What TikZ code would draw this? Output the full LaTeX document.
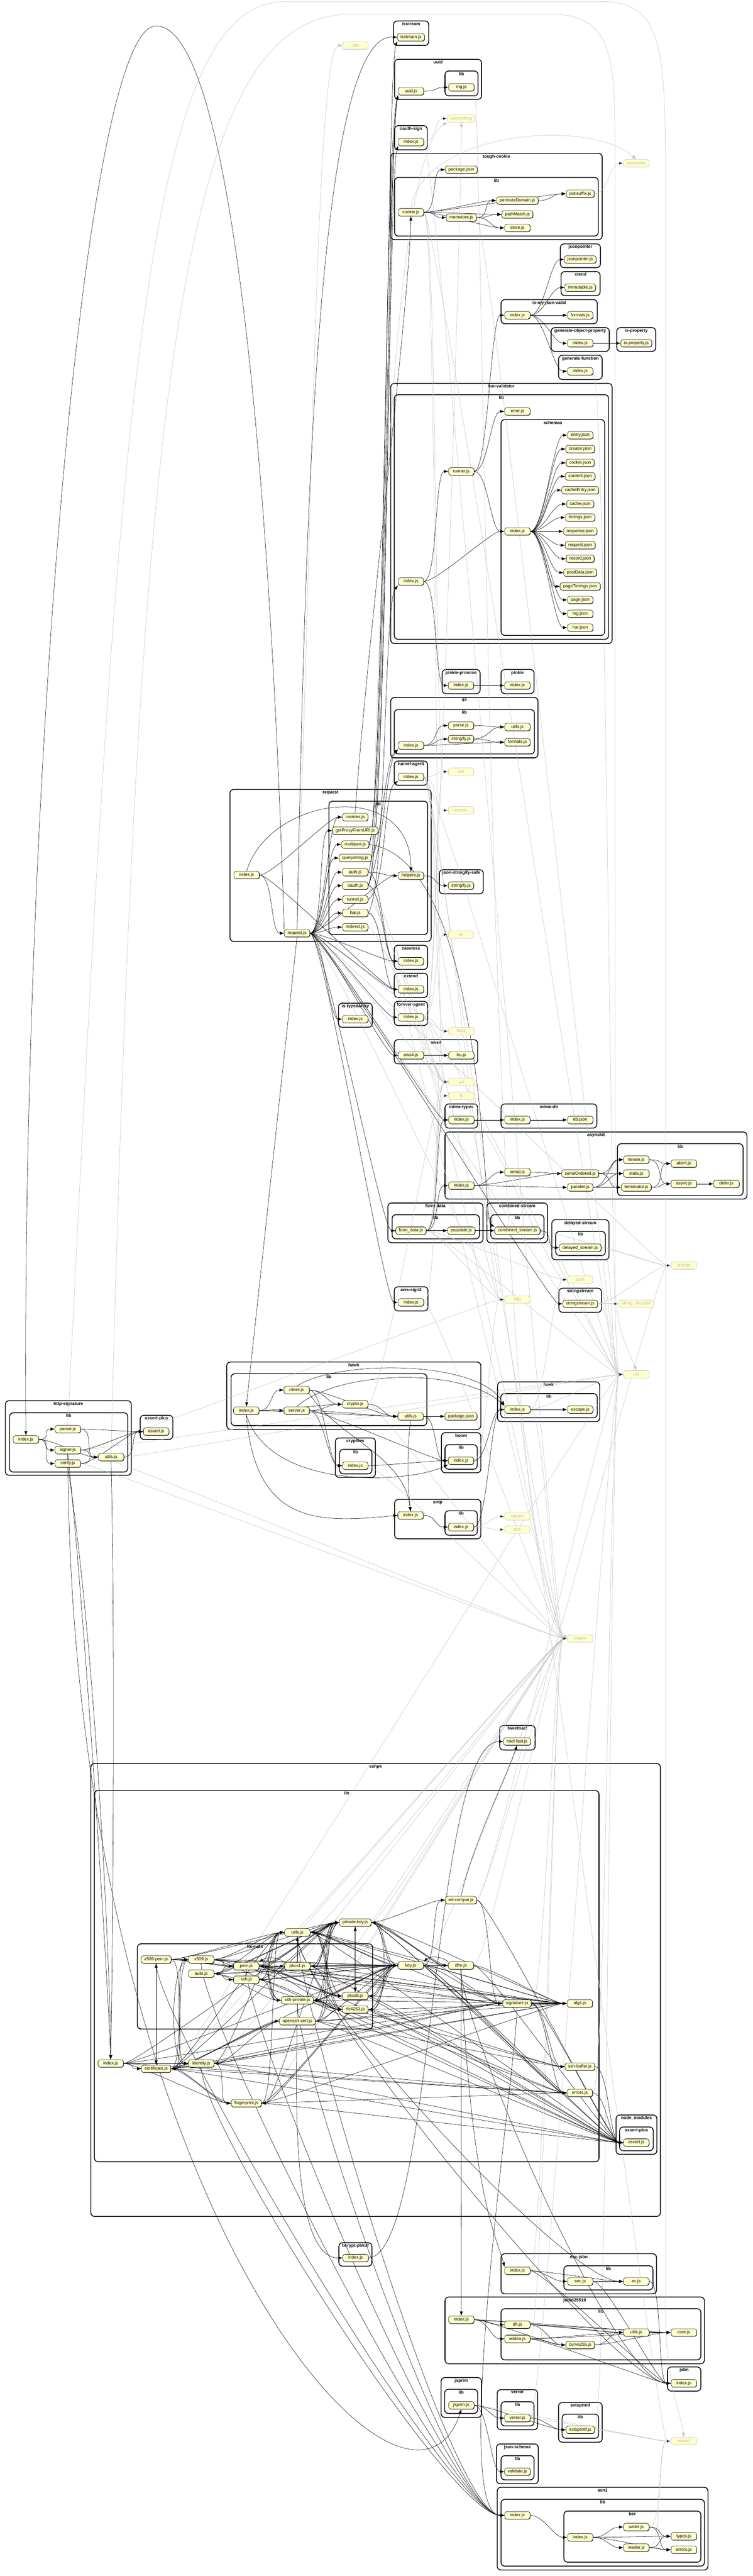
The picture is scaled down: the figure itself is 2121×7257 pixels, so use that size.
\documentclass[tikz,border=0pt]{standalone}
\usepackage{fontspec}
\setmainfont{Liberation Sans}
\usepackage{tikz}
\usetikzlibrary{arrows.meta,positioning,fit,backgrounds,shadows}
\definecolor{paleyellow}{RGB}{255,255,204}
\definecolor{coreline}{RGB}{192,192,192}
\definecolor{coretext}{RGB}{188,188,188}

\begin{document}
\begin{tikzpicture}[x=0.02cm, y=-0.02cm,
    modfile/.style={rectangle, draw, fill=paleyellow, rounded corners=3.5pt, line width=.5pt,
      minimum width=40.8pt, minimum height=12pt, inner xsep=5pt, inner ysep=1pt,
      font=\fontsize{7}{8}\selectfont,
      drop shadow={shadow xshift=.6pt, shadow yshift=-.6pt, opacity=.8, fill=black}},
    builtin/.style={rectangle, draw=coreline, fill=paleyellow, text=coretext, rounded corners=3.5pt,
      line width=.5pt, minimum width=40.8pt, minimum height=12pt, inner xsep=5pt, inner ysep=1pt,
      font=\fontsize{7}{8}\selectfont},
    pkg/.style={rectangle, draw, rounded corners=6pt, line width=1.3pt, inner sep=0pt},
    pkglab/.style={anchor=north, inner sep=1.5pt, yshift=-1pt, font=\bfseries\fontsize{7}{8}\selectfont},
    dep/.style={-{Latex[length=7pt,width=5pt]}, line width=.45pt},
    sys/.style={dep, draw=coreline},
    fwd/.style={to path={(\tikztostart.east) .. controls +(22pt,0) and +(-22pt,0) .. (\tikztotarget.west)}},
    bwd/.style={to path={(\tikztostart.west) .. controls +(-22pt,0) and +(22pt,0) .. (\tikztotarget.east)}},
    sink/.style={to path={(\tikztostart.south) .. controls +(0,-90pt) and +(-90pt,0) .. (\tikztotarget.west)}},
    vup/.style={to path={(\tikztostart.north) -- (\tikztotarget.south)}},
    vdown/.style={to path={(\tikztostart.south) -- (\tikztotarget.north)}},
    loopl/.style={to path={(\tikztostart.west) .. controls +(-30pt,0) and +(-30pt,0) .. (\tikztotarget.west)}},
    loopr/.style={to path={(\tikztostart.east) .. controls +(30pt,0) and +(30pt,0) .. (\tikztotarget.east)}},
    arcup/.style={to path={(\tikztostart.north west) .. controls +(-12pt,9pt) and +(12pt,9pt) .. (\tikztotarget.north east)}}]

    \useasboundingbox (0,0) rectangle (2121,7257);

    % Package boxes (drawn first, behind everything)
    \begin{pgfonlayer}{background}
    \fill[white] (0,0) rectangle (2121,7257);
    \node[pkg, fit={(1109,59) (1208,128)}, label={[pkglab]north:isstream}] (pIsstream) {};
    \node[pkg, fit={(1112,167) (1357,280)}, label={[pkglab]north:uuid}] (pUuid) {};
    \node[pkg, fit={(1254,200) (1347,270)}, label={[pkglab]north:lib}] (pUuidLib) {};
    \node[pkg, fit={(1112,354) (1204,422)}, label={[pkglab]north:oauth-sign}] (pOauthSign) {};
    \node[pkg, fit={(1101,432) (1697,675)}, label={[pkglab]north:tough-cookie}] (pTough) {};
    \node[pkg, fit={(1112,500) (1686,665)}, label={[pkglab]north:lib}] (pToughLib) {};
    \node[pkg, fit={(1579,687) (1692,754)}, label={[pkglab]north:jsonpointer}] (pJsonpointer) {};
    \node[pkg, fit={(1581,765) (1691,833)}, label={[pkglab]north:xtend}] (pXtend) {};
    \node[pkg, fit={(1412,844) (1683,912)}, label={[pkglab]north:is-my-json-valid}] (pImjv) {};
    \node[pkg, fit={(1553,923) (1717,990)}, label={[pkglab]north:generate-object-property}] (pGop) {};
    \node[pkg, fit={(1738,923) (1848,990)}, label={[pkglab]north:is-property}] (pIsProp) {};
    \node[pkg, fit={(1574,1001) (1697,1069)}, label={[pkglab]north:generate-function}] (pGenFn) {};
    \node[pkg, fit={(1101,1080) (1725,1813)}, label={[pkglab]north:har-validator}] (pHar) {};
    \node[pkg, fit={(1111,1112) (1715,1801)}, label={[pkglab]north:lib}] (pHarLib) {};
    \node[pkg, fit={(1412,1182) (1704,1790)}, label={[pkglab]north:schemas}] (pHarSchemas) {};
    \node[pkg, fit={(1246,1886) (1353,1954)}, label={[pkglab]north:pinkie-promise}] (pPinkieP) {};
    \node[pkg, fit={(1412,1886) (1505,1954)}, label={[pkglab]north:pinkie}] (pPinkie) {};
    \node[pkg, fit={(1101,1965) (1516,2135)}, label={[pkglab]north:qs}] (pQs) {};
    \node[pkg, fit={(1111,1999) (1506,2124)}, label={[pkglab]north:lib}] (pQsLib) {};
    \node[pkg, fit={(1111,2144) (1205,2212)}, label={[pkglab]north:tunnel-agent}] (pTunnel) {};
    \node[pkg, fit={(648,2224) (1215,2652)}, label={[pkglab]north:request}] (pRequest) {};
    \node[pkg, fit={(927,2257) (1205,2633)}, label={[pkglab]north:lib}] (pRequestLib) {};
    \node[pkg, fit={(1238,2450) (1362,2518)}, label={[pkglab]north:json-stringify-safe}] (pJss) {};
    \node[pkg, fit={(1111,2663) (1205,2731)}, label={[pkglab]north:caseless}] (pCaseless) {};
    \node[pkg, fit={(1111,2742) (1205,2810)}, label={[pkglab]north:extend}] (pExtend) {};
    \node[pkg, fit={(1111,2821) (1205,2889)}, label={[pkglab]north:forever-agent}] (pForever) {};
    \node[pkg, fit={(954,2826) (1049,2894)}, label={[pkglab]north:is-typedarray}] (pTypedArr) {};
    \node[pkg, fit={(1111,2929) (1346,2997)}, label={[pkglab]north:aws4}] (pAws4) {};
    \node[pkg, fit={(1254,3110) (1346,3178)}, label={[pkglab]north:mime-types}] (pMimeTypes) {};
    \node[pkg, fit={(1412,3110) (1682,3178)}, label={[pkglab]north:mime-db}] (pMimeDb) {};
    \node[pkg, fit={(1254,3189) (2105,3378)}, label={[pkglab]north:asynckit}] (pAsynckit) {};
    \node[pkg, fit={(1740,3222) (2094,3368)}, label={[pkglab]north:lib}] (pAsynckitLib) {};
    \node[pkg, fit={(1093,3389) (1361,3501)}, label={[pkglab]north:form-data}] (pFormData) {};
    \node[pkg, fit={(1105,3422) (1351,3490)}, label={[pkglab]north:lib}] (pFormDataLib) {};
    \node[pkg, fit={(1372,3389) (1543,3501)}, label={[pkglab]north:combined-stream}] (pCombined) {};
    \node[pkg, fit={(1383,3422) (1533,3490)}, label={[pkglab]north:lib}] (pCombinedLib) {};
    \node[pkg, fit={(1555,3436) (1716,3549)}, label={[pkglab]north:delayed-stream}] (pDelayed) {};
    \node[pkg, fit={(1566,3469) (1706,3537)}, label={[pkglab]north:lib}] (pDelayedLib) {};
    \node[pkg, fit={(1575,3629) (1695,3697)}, label={[pkglab]north:stringstream}] (pStringstream) {};
    \node[pkg, fit={(1111,3625) (1206,3693)}, label={[pkglab]north:aws-sign2}] (pAwsSign2) {};
    \node[pkg, fit={(639,3837) (1355,4027)}, label={[pkglab]north:hawk}] (pHawk) {};
    \node[pkg, fit={(651,3870) (1203,4016)}, label={[pkglab]north:lib}] (pHawkLib) {};
    \node[pkg, fit={(1402,3893) (1690,4005)}, label={[pkglab]north:hoek}] (pHoek) {};
    \node[pkg, fit={(1411,3926) (1683,3994)}, label={[pkglab]north:lib}] (pHoekLib) {};
    \node[pkg, fit={(945,4051) (1058,4162)}, label={[pkglab]north:cryptiles}] (pCryptiles) {};
    \node[pkg, fit={(957,4083) (1048,4152)}, label={[pkglab]north:lib}] (pCryptilesLib) {};
    \node[pkg, fit={(1244,4036) (1355,4149)}, label={[pkglab]north:boom}] (pBoom) {};
    \node[pkg, fit={(1254,4070) (1345,4139)}, label={[pkglab]north:lib}] (pBoomLib) {};
    \node[pkg, fit={(1112,4224) (1355,4335)}, label={[pkglab]north:sntp}] (pSntp) {};
    \node[pkg, fit={(1254,4256) (1345,4325)}, label={[pkglab]north:lib}] (pSntpLib) {};
    \node[pkg, fit={(15,3946) (370,4156)}, label={[pkglab]north:http-signature}] (pHttpSig) {};
    \node[pkg, fit={(27,3980) (360,4147)}, label={[pkglab]north:lib}] (pHttpSigLib) {};
    \node[pkg, fit={(395,3987) (487,4055)}, label={[pkglab]north:assert-plus}] (pAssertPlus) {};
    \node[pkg, fit={(1408,4861) (1508,4930)}, label={[pkglab]north:tweetnacl}] (pTweetnacl) {};
    \node[pkg, fit={(256,4968) (1861,6244)}, label={[pkglab]north:sshpk}] (pSshpk) {};
    \node[pkg, fit={(266,5044) (1688,6090)}, label={[pkglab]north:lib}] (pSshpkLib) {};
    \node[pkg, fit={(387,5476) (1050,5716)}, label={[pkglab]north:formats}] (pSshpkFormats) {};
    \node[pkg, fit={(1736,5958) (1851,6069)}, label={[pkglab]north:node\_modules}] (pSshpkNm) {};
    \node[pkg, fit={(1746,5992) (1841,6059)}, label={[pkglab]north:assert-plus}] (pSshpkAp) {};
    \node[pkg, fit={(955,6318) (1048,6384)}, label={[pkglab]north:bcrypt-pbkdf}] (pBcrypt) {};
    \node[pkg, fit={(1412,6349) (1850,6462)}, label={[pkglab]north:ecc-jsbn}] (pEcc) {};
    \node[pkg, fit={(1589,6383) (1840,6451)}, label={[pkglab]north:lib}] (pEccLib) {};
    \node[pkg, fit={(1254,6471) (1985,6659)}, label={[pkglab]north:jodid25519}] (pJodid) {};
    \node[pkg, fit={(1412,6504) (1975,6648)}, label={[pkglab]north:lib}] (pJodidLib) {};
    \node[pkg, fit={(1881,6668) (1975,6736)}, label={[pkglab]north:jsbn}] (pJsbn) {};
    \node[pkg, fit={(1243,6698) (1357,6810)}, label={[pkglab]north:jsprim}] (pJsprim) {};
    \node[pkg, fit={(1253,6731) (1346,6799)}, label={[pkglab]north:lib}] (pJsprimLib) {};
    \node[pkg, fit={(1401,6732) (1515,6845)}, label={[pkglab]north:verror}] (pVerror) {};
    \node[pkg, fit={(1412,6766) (1505,6834)}, label={[pkglab]north:lib}] (pVerrorLib) {};
    \node[pkg, fit={(1574,6768) (1697,6880)}, label={[pkglab]north:extsprintf}] (pExtsprintf) {};
    \node[pkg, fit={(1584,6801) (1687,6869)}, label={[pkglab]north:lib}] (pExtsprintfLib) {};
    \node[pkg, fit={(1399,6885) (1517,6997)}, label={[pkglab]north:json-schema}] (pJsonSchema) {};
    \node[pkg, fit={(1412,6918) (1505,6986)}, label={[pkglab]north:lib}] (pJsonSchemaLib) {};
    \node[pkg, fit={(1401,7007) (1995,7240)}, label={[pkglab]north:asn1}] (pAsn1) {};
    \node[pkg, fit={(1412,7041) (1985,7229)}, label={[pkglab]north:lib}] (pAsn1Lib) {};
    \node[pkg, fit={(1589,7074) (1975,7218)}, label={[pkglab]north:ber}] (pAsn1Ber) {};
    \end{pgfonlayer}

    % Node core modules (grey)
    \node[builtin] (czlib) at (1002,128) {zlib};
    \node[builtin] (cqs) at (1300,334) {querystring};
    \node[builtin] (cpuny) at (1793,460) {punycode};
    \node[builtin] (cnet) at (1299,2174) {net};
    \node[builtin] (cevents) at (1299,2283) {events};
    \node[builtin] (ctls) at (1299,2633) {tls};
    \node[builtin] (chttps) at (1300,2905) {https};
    \node[builtin] (curl) at (1300,3048) {url};
    \node[builtin] (cfs) at (1300,3087) {fs};
    \node[builtin] (cstream) at (1927,3565) {stream};
    \node[builtin] (cpath) at (1635,3605) {path};
    \node[builtin] (chttp) at (1458,3661) {http};
    \node[builtin] (csd) at (1793,3673) {string\_decoder};
    \node[builtin] (cutil) at (1793,3872) {util};
    \node[builtin] (cdgram) at (1458,4272) {dgram};
    \node[builtin] (cdns) at (1458,4309) {dns};
    \node[builtin] (ccrypto) at (1635,4616) {crypto};
    \node[builtin] (cassert) at (1927,6877) {assert};

    % isstream, uuid, oauth-sign, tough-cookie
    \node[modfile] (iss) at (1158,105) {isstream.js};
    \node[modfile] (uuid) at (1158,257) {uuid.js};
    \node[modfile] (rng) at (1300,246) {rng.js};
    \node[modfile] (oas) at (1158,400) {index.js};
    \node[modfile] (tcpkg) at (1300,478) {package.json};
    \node[modfile] (tccookie) at (1158,598) {cookie.js};
    \node[modfile] (tcmem) at (1300,613) {memstore.js};
    \node[modfile] (tcperm) at (1458,565) {permuteDomain.js};
    \node[modfile] (tcpath) at (1458,604) {pathMatch.js};
    \node[modfile] (tcstore) at (1458,642) {store.js};
    \node[modfile] (tcpub) at (1635,546) {pubsuffix.js};

    % is-my-json-valid and friends
    \node[modfile] (jp) at (1635,731) {jsonpointer.js};
    \node[modfile] (xt) at (1635,810) {immutable.js};
    \node[modfile] (imjv) at (1458,888) {index.js};
    \node[modfile] (imjvfmt) at (1635,888) {formats.js};
    \node[modfile] (gop) at (1635,967) {index.js};
    \node[modfile] (isprop) at (1793,967) {is-property.js};
    \node[modfile] (genfn) at (1635,1046) {index.js};

    % har-validator
    \node[modfile] (hverr) at (1458,1159) {error.js};
    \node[modfile] (hvrun) at (1300,1328) {runner.js};
    \node[modfile] (hvidx) at (1158,1638) {index.js};
    \node[modfile] (hvsch) at (1458,1497) {index.js};
    \node[modfile] (sEntry) at (1635,1226) {entry.json};
    \node[modfile] (sCreator) at (1635,1265) {creator.json};
    \node[modfile] (sCookie) at (1635,1304) {cookie.json};
    \node[modfile] (sContent) at (1635,1342) {content.json};
    \node[modfile] (sCacheEntry) at (1635,1381) {cacheEntry.json};
    \node[modfile] (sCache) at (1635,1420) {cache.json};
    \node[modfile] (sTimings) at (1635,1458) {timings.json};
    \node[modfile] (sResponse) at (1635,1497) {response.json};
    \node[modfile] (sRequest) at (1635,1536) {request.json};
    \node[modfile] (sRecord) at (1635,1574) {record.json};
    \node[modfile] (sPostData) at (1635,1613) {postData.json};
    \node[modfile] (sPageTimings) at (1635,1652) {pageTimings.json};
    \node[modfile] (sPage) at (1635,1690) {page.json};
    \node[modfile] (sLog) at (1635,1729) {log.json};
    \node[modfile] (sHar) at (1635,1768) {har.json};

    % pinkie, qs, tunnel-agent
    \node[modfile] (pp) at (1299,1931) {index.js};
    \node[modfile] (pk) at (1458,1931) {index.js};
    \node[modfile] (qsidx) at (1158,2100) {index.js};
    \node[modfile] (qsparse) at (1299,2044) {parse.js};
    \node[modfile] (qsstr) at (1299,2082) {stringify.js};
    \node[modfile] (qsutil) at (1458,2048) {utils.js};
    \node[modfile] (qsfmt) at (1458,2091) {formats.js};
    \node[modfile] (ta) at (1158,2189) {index.js};

    % request
    \node[modfile] (rqidx) at (695,2465) {index.js};
    \node[modfile] (rq) at (837,2629) {request.js};
    \node[modfile] (rqcook) at (1001,2302) {cookies.js};
    \node[modfile] (rqproxy) at (1001,2340) {getProxyFromURI.js};
    \node[modfile] (rqmulti) at (1001,2379) {multipart.js};
    \node[modfile] (rqqs) at (1001,2417) {querystring.js};
    \node[modfile] (rqauth) at (1001,2457) {auth.js};
    \node[modfile] (rqoauth) at (1001,2495) {oauth.js};
    \node[modfile] (rqtun) at (1001,2534) {tunnel.js};
    \node[modfile] (rqhar) at (1001,2572) {har.js};
    \node[modfile] (rqredir) at (1001,2612) {redirect.js};
    \node[modfile] (rqhelp) at (1158,2467) {helpers.js};
    \node[modfile] (jss) at (1299,2495) {stringify.js};
    \node[modfile] (cl) at (1158,2708) {index.js};
    \node[modfile] (ext) at (1158,2787) {index.js};
    \node[modfile] (fa) at (1158,2866) {index.js};
    \node[modfile] (ita) at (1001,2871) {index.js};
    \node[modfile] (aws4) at (1158,2973) {aws4.js};
    \node[modfile] (lru) at (1300,2973) {lru.js};
    \node[modfile] (mt) at (1300,3155) {index.js};
    \node[modfile] (mdb) at (1458,3155) {index.js};
    \node[modfile] (mdbjson) at (1635,3155) {db.json};

    % asynckit, form-data, streams
    \node[modfile] (ak) at (1300,3340) {index.js};
    \node[modfile] (akser) at (1458,3302) {serial.js};
    \node[modfile] (akso) at (1635,3306) {serialOrdered.js};
    \node[modfile] (akpar) at (1635,3345) {parallel.js};
    \node[modfile] (akit) at (1793,3267) {iterate.js};
    \node[modfile] (akst) at (1793,3306) {state.js};
    \node[modfile] (akterm) at (1793,3345) {terminator.js};
    \node[modfile] (akab) at (1927,3278) {abort.js};
    \node[modfile] (akas) at (1927,3335) {async.js};
    \node[modfile] (akdef) at (2047,3335) {defer.js};
    \node[modfile] (fd) at (1158,3467) {form\_data.js};
    \node[modfile] (fdpop) at (1300,3467) {populate.js};
    \node[modfile] (cs) at (1458,3467) {combined\_stream.js};
    \node[modfile] (ds) at (1635,3515) {delayed\_stream.js};
    \node[modfile] (ss) at (1635,3673) {stringstream.js};
    \node[modfile] (as2) at (1158,3669) {index.js};

    % hawk and its helpers
    \node[modfile] (hkidx) at (694,3974) {index.js};
    \node[modfile] (hkcli) at (836,3916) {client.js};
    \node[modfile] (hksrv) at (836,3974) {server.js};
    \node[modfile] (hkcry) at (1001,3956) {crypto.js};
    \node[modfile] (hkutil) at (1157,3990) {utils.js};
    \node[modfile] (hkpkg) at (1299,3990) {package.json};
    \node[modfile] (hoek) at (1458,3971) {index.js};
    \node[modfile] (hoekesc) at (1635,3971) {escape.js};
    \node[modfile] (cryp) at (1001,4129) {index.js};
    \node[modfile] (boom) at (1299,4115) {index.js};
    \node[modfile] (sntp) at (1157,4269) {index.js};
    \node[modfile] (sntplib) at (1299,4302) {index.js};

    % http-signature
    \node[modfile] (hsidx) at (73,4055) {index.js};
    \node[modfile] (hsparse) at (191,4026) {parser.js};
    \node[modfile] (hssign) at (191,4085) {signer.js};
    \node[modfile] (hsver) at (191,4123) {verify.js};
    \node[modfile] (hsutil) at (313,4105) {utils.js};
    \node[modfile] (ap) at (440,4033) {assert.js};
    \node[modfile] (nacl) at (1457,4906) {nacl-fast.js};

    % sshpk
    \node[modfile] (shidx) at (312,5813) {index.js};
    \node[modfile] (shcert) at (440,5828) {certificate.js};
    \node[modfile] (shid) at (567,5813) {identity.js};
    \node[modfile] (shfp) at (694,5925) {fingerprint.js};
    \node[modfile] (shx509pem) at (440,5520) {x509-pem.js};
    \node[modfile] (shx509) at (567,5520) {x509.js};
    \node[modfile] (shauto) at (567,5560) {auto.js};
    \node[modfile] (shpem) at (694,5539) {pem.js};
    \node[modfile] (shssh) at (694,5577) {ssh.js};
    \node[modfile] (shpkcs1) at (838,5539) {pkcs1.js};
    \node[modfile] (shsshpriv) at (838,5635) {ssh-private.js};
    \node[modfile] (shoc) at (838,5694) {openssh-cert.js};
    \node[modfile] (shpkcs8) at (1001,5623) {pkcs8.js};
    \node[modfile] (shrfc) at (1001,5661) {rfc4253.js};
    \node[modfile] (shutil) at (838,5444) {utils.js};
    \node[modfile] (shpriv) at (1001,5416) {private-key.js};
    \node[modfile] (shkey) at (1157,5537) {key.js};
    \node[modfile] (shdhe) at (1299,5537) {dhe.js};
    \node[modfile] (shed) at (1299,5353) {ed-compat.js};
    \node[modfile] (shsig) at (1457,5644) {signature.js};
    \node[modfile] (shalgs) at (1634,5644) {algs.js};
    \node[modfile] (shbuf) at (1634,5822) {ssh-buffer.js};
    \node[modfile] (sherr) at (1634,5896) {errors.js};
    \node[modfile] (shap) at (1793,6036) {assert.js};

    % crypto helpers at the bottom
    \node[modfile] (bcrypt) at (1002,6361) {index.js};
    \node[modfile] (eccidx) at (1458,6397) {index.js};
    \node[modfile] (eccsec) at (1635,6427) {sec.js};
    \node[modfile] (eccec) at (1793,6427) {ec.js};
    \node[modfile] (jdidx) at (1300,6535) {index.js};
    \node[modfile] (jddh) at (1458,6549) {dh.js};
    \node[modfile] (jded) at (1458,6589) {eddsa.js};
    \node[modfile] (jdcurve) at (1635,6606) {curve255.js};
    \node[modfile] (jdutil) at (1793,6571) {utils.js};
    \node[modfile] (jdcore) at (1927,6571) {core.js};
    \node[modfile] (jsbn) at (1927,6714) {index.js};
    \node[modfile] (jsprim) at (1300,6776) {jsprim.js};
    \node[modfile] (verror) at (1458,6812) {verror.js};
    \node[modfile] (extspf) at (1635,6845) {extsprintf.js};
    \node[modfile] (jsch) at (1458,6963) {validate.js};
    \node[modfile] (asidx) at (1458,7086) {index.js};
    \node[modfile] (aberidx) at (1635,7148) {index.js};
    \node[modfile] (abwr) at (1793,7119) {writer.js};
    \node[modfile] (abrd) at (1793,7177) {reader.js};
    \node[modfile] (abty) at (1927,7145) {types.js};
    \node[modfile] (aberr) at (1927,7183) {errors.js};

    \begin{pgfonlayer}{background}
    % Edges to core modules (grey)
    \draw[sys] (tcpub) edge[fwd] (cpuny);
    \draw[sys] (tccookie.north) .. controls (1190,370) and (1660,330) .. (cpuny.north);
    \draw[sys] (tccookie) edge[fwd] (cnet) edge[fwd] (curl) edge[fwd] (cutil);
    \draw[sys] (tcmem) edge[fwd] (cutil);
    \draw[sys] (oas) edge[fwd] (cqs) edge[fwd] (ccrypto);
    \draw[sys] (rng.south east) .. controls (1365,300) and (1365,4400) .. (ccrypto.west);
    \draw[sys] (rq.north) .. controls (880,1500) and (890,128) .. (czlib.west);
    \draw[sys] (rqqs.east) .. controls (1060,2300) and (1080,450) .. (cqs.south west);
    \draw[sys] (aws4.north east) .. controls (1230,2900) and (1300,600) .. (cqs.south);
    \draw[sys] (genfn) edge[fwd] (cutil);
    \draw[sys] (ta) edge[fwd] (cnet) edge[fwd] (ctls) edge[fwd] (cevents) edge[fwd] (chttp) edge[fwd] (chttps) edge[fwd] (cutil) edge[fwd] (cassert);
    \draw[sys] (fa) edge[fwd] (chttp) edge[fwd] (chttps) edge[fwd] (cnet) edge[fwd] (ctls) edge[fwd] (cutil);
    \draw[sys] (rq) edge[fwd] (chttp) edge[fwd] (chttps) edge[fwd] (curl) edge[fwd] (cutil) edge[fwd] (cstream);
    \draw[sys] (rqredir) edge[fwd] (curl);
    \draw[sys] (rqhar) edge[fwd] (cfs);
    \draw[sys] (rqhelp) edge[fwd] (ccrypto);
    \draw[sys] (rqoauth) edge[fwd] (curl) edge[fwd] (ccrypto);
    \draw[sys] (rqtun) edge[fwd] (curl);
    \draw[sys] (aws4) edge[fwd] (curl) edge[fwd] (ccrypto);
    \draw[sys] (mt) edge[fwd] (cpath);
    \draw[sys] (fd) edge[fwd] (cutil) edge[fwd] (cpath) edge[fwd] (chttp) edge[fwd] (chttps) edge[fwd] (curl) edge[fwd] (cfs);
    \draw[sys] (cs) edge[fwd] (cutil) edge[fwd] (cstream);
    \draw[sys] (ds) edge[fwd] (cstream) edge[fwd] (cutil);
    \draw[sys] (ss) edge[fwd] (csd) edge[fwd] (cstream) edge[fwd] (cutil);
    \draw[sys] (as2) edge[fwd] (ccrypto) edge[fwd] (curl);
    \draw[sys] (hkcry) edge[fwd] (ccrypto) edge[fwd] (curl);
    \draw[sys] (hoek) edge[fwd] (cutil) edge[fwd] (ccrypto) edge[fwd] (cpath);
    \draw[sys] (boom) edge[fwd] (chttp);
    \draw[sys] (cryp) edge[fwd] (ccrypto);
    \draw[sys] (sntplib) edge[fwd] (cdgram) edge[fwd] (cdns);
    \draw[sys] (hssign) edge[fwd] (ccrypto) edge[fwd] (chttp) edge[fwd] (cutil);
    \draw[sys] (hsver) edge[fwd] (ccrypto);
    \draw[sys] (hsutil) edge[fwd] (cutil);
    \draw[sys] (hsparse.north) .. controls (330,1200) and (400,5) .. (800,5) -- (1700,5) .. controls (1870,5) and (1875,150) .. (1875,500) -- (1875,6500) .. controls (1875,6720) and (1920,6800) .. (cassert.north);
    \draw[sys] (hsutil.north) .. controls (390,1000) and (520,40) .. (990,40) -- (1550,40) .. controls (1720,40) and (1733,150) .. (1733,400) -- (1733,3600) .. controls (1733,3760) and (1780,3820) .. (cutil.north);
    \draw[sys] (shkey) edge[fwd] (ccrypto);
    \draw[sys] (shpriv) edge[fwd] (ccrypto);
    \draw[sys] (shcert) edge[fwd] (ccrypto) edge[fwd] (cutil);
    \draw[sys] (shid) edge[fwd] (ccrypto);
    \draw[sys] (shfp) edge[fwd] (ccrypto);
    \draw[sys] (shsig) edge[fwd] (ccrypto);
    \draw[sys] (shutil) edge[fwd] (ccrypto);
    \draw[sys] (shdhe) edge[fwd] (ccrypto);
    \draw[sys] (shpem) edge[fwd] (ccrypto);
    \draw[sys] (shsshpriv) edge[fwd] (ccrypto);
    \draw[sys] (shoc) edge[fwd] (ccrypto);
    \draw[sys] (sherr) edge[fwd] (cutil);
    \draw[sys] (shed) edge[fwd] (cstream) edge[fwd] (cutil);
    \draw[sys] (eccidx) edge[fwd] (ccrypto);
    \draw[sys] (jded) edge[fwd] (ccrypto);
    \draw[sys] (jsprim) edge[fwd] (cassert);
    \draw[sys] (verror) edge[fwd] (cassert) edge[fwd] (cutil);
    \draw[sys] (extspf) edge[fwd] (cassert) edge[fwd] (cutil);
    \draw[sys] (abwr) edge[fwd] (cassert);
    \draw[sys] (abrd) edge[fwd] (cassert);

    % tough-cookie, uuid, is-my-json-valid
    \draw[dep] (tccookie) edge[fwd] (tcpkg) edge[fwd] (tcpub) edge[fwd] (tcperm) edge[fwd] (tcpath) edge[fwd] (tcmem) edge[fwd] (tcstore);
    \draw[dep] (tcmem) edge[fwd] (tcperm) edge[fwd] (tcpath) edge[fwd] (tcstore);
    \draw[dep] (tcperm) edge[fwd] (tcpub);
    \draw[dep] (uuid) edge[fwd] (rng);
    \draw[dep] (imjv) edge[fwd] (jp) edge[fwd] (xt) edge[fwd] (imjvfmt) edge[fwd] (gop) edge[fwd] (genfn);
    \draw[dep] (gop) edge[fwd] (isprop);

    % har-validator
    \draw[dep] (hvidx) edge[fwd] (hvrun) edge[fwd] (hvsch) edge[fwd] (pp);
    \draw[dep] (hvrun) edge[fwd] (hverr) edge[fwd] (hvsch) edge[fwd] (imjv);
    \draw[dep] (hvsch) edge[fwd] (sEntry) edge[fwd] (sCreator) edge[fwd] (sCookie) edge[fwd] (sContent) edge[fwd] (sCacheEntry);
    \draw[dep] (hvsch) edge[fwd] (sCache) edge[fwd] (sTimings) edge[fwd] (sResponse) edge[fwd] (sRequest) edge[fwd] (sRecord);
    \draw[dep] (hvsch) edge[fwd] (sPostData) edge[fwd] (sPageTimings) edge[fwd] (sPage) edge[fwd] (sLog) edge[fwd] (sHar);
    \draw[dep] (pp) edge[fwd] (pk);

    % qs
    \draw[dep] (qsidx) edge[fwd] (qsparse) edge[fwd] (qsstr) edge[fwd] (qsfmt);
    \draw[dep] (qsparse) edge[fwd] (qsutil);
    \draw[dep] (qsstr) edge[fwd] (qsutil) edge[fwd] (qsfmt);

    % request
    \draw[dep] (rqidx) edge[fwd] (rq) edge[fwd] (rqcook) edge[fwd] (ext);
    \draw[dep] (rqidx.north) .. controls (760,2240) and (1158,2190) .. (rqhelp.north);
    \draw[dep] (rq) edge[fwd] (rqcook) edge[fwd] (rqproxy) edge[fwd] (rqmulti) edge[fwd] (rqqs) edge[fwd] (rqauth) edge[fwd] (rqoauth);
    \draw[dep] (rq) edge[fwd] (rqtun) edge[fwd] (rqhar) edge[fwd] (rqredir) edge[fwd] (rqhelp) edge[fwd] (cl) edge[fwd] (ext);
    \draw[dep] (rq) edge[fwd] (fa) edge[fwd] (ita) edge[fwd] (aws4) edge[fwd] (mt) edge[fwd] (fd) edge[fwd] (as2) edge[fwd] (ss);
    \draw[dep] (rq.north) .. controls (860,1500) and (890,90) .. (iss.west);
    \draw[dep] (rq.north west) .. controls (760,1300) and (650,73) .. (440,73) .. controls (230,73) and (60,2300) .. (hsidx.north);
    \draw[dep] (rq.south) -- (hkidx.north);
    \draw[dep] (rqcook.north) .. controls (1035,1800) and (1150,900) .. (tccookie.south);
    \draw[dep] (rqmulti.east) .. controls (1080,2300) and (1085,400) .. (uuid.south west);
    \draw[dep] (rqmulti.east) .. controls (1085,2300) and (1090,200) .. (iss.south west);
    \draw[dep] (rqmulti.east) .. controls (1370,2420) and (1360,3440) .. (cs.north west);
    \draw[dep] (rqauth.east) .. controls (1085,2400) and (1090,420) .. (uuid.south west);
    \draw[dep] (rqauth) edge[fwd] (cl) edge[fwd] (rqhelp);
    \draw[dep] (rqoauth.east) .. controls (1090,2400) and (1095,500) .. (oas.south west);
    \draw[dep] (rqoauth.east) .. controls (1090,2420) and (1092,440) .. (uuid.south west);
    \draw[dep] (rqoauth.east) .. controls (1080,2400) and (1090,2150) .. (qsidx.south west);
    \draw[dep] (rqoauth) edge[fwd] (cl);
    \draw[dep] (rqqs.east) .. controls (1075,2380) and (1085,2140) .. (qsidx.south west);
    \draw[dep] (rqtun.east) .. controls (1090,2500) and (1080,2230) .. (ta.south west);
    \draw[dep] (rqhar.east) .. controls (1090,2500) and (1080,1700) .. (hvidx.south west);
    \draw[dep] (rqhar) edge[fwd] (ext);
    \draw[dep] (rqhelp) edge[fwd] (jss);

    % aws4, mime, asynckit, form-data, streams
    \draw[dep] (aws4) edge[fwd] (lru);
    \draw[dep] (mt) edge[fwd] (mdb);
    \draw[dep] (mdb) edge[fwd] (mdbjson);
    \draw[dep] (ak) edge[fwd] (akser) edge[fwd] (akso) edge[fwd] (akpar);
    \draw[dep] (akser) edge[fwd] (akso);
    \draw[dep] (akso) edge[fwd] (akit) edge[fwd] (akst) edge[fwd] (akterm);
    \draw[dep] (akpar) edge[fwd] (akit) edge[fwd] (akst) edge[fwd] (akterm);
    \draw[dep] (akit) edge[fwd] (akab) edge[fwd] (akas);
    \draw[dep] (akterm) edge[fwd] (akab) edge[fwd] (akas);
    \draw[dep] (akas) edge[fwd] (akdef);
    \draw[dep] (fd) edge[fwd] (fdpop) edge[fwd] (ak) edge[fwd] (cs) edge[fwd] (mt);
    \draw[dep] (cs) edge[fwd] (ds);

    % hawk
    \draw[dep] (hkidx) edge[fwd] (hkcli) edge[fwd] (hksrv) edge[fwd] (hkcry) edge[fwd] (hkutil);
    \draw[dep] (hkidx.south) .. controls (760,4200) and (1150,4180) .. (boom.south west);
    \draw[dep] (hkidx.south) .. controls (720,4300) and (900,4290) .. (sntp.west);
    \draw[dep] (hkcli) edge[fwd] (hkcry) edge[fwd] (hkutil) edge[fwd] (cryp);
    \draw[dep] (hkcli.north) .. controls (950,3830) and (1350,3830) .. (hoek.north west);
    \draw[dep] (hkcli.south east) .. controls (950,4050) and (1140,4100) .. (sntp.north);
    \draw[dep] (hksrv) edge[fwd] (hkcry) edge[fwd] (hkutil) edge[fwd] (boom) edge[fwd] (cryp);
    \draw[dep] (hksrv.north) .. controls (950,3860) and (1300,3850) .. (hoek.north west);
    \draw[dep] (hkcry) edge[fwd] (hkutil);
    \draw[dep] (hkutil) edge[fwd] (hkpkg) edge[fwd] (boom);
    \draw[dep] (hkutil.south) .. controls (1145,4100) and (1150,4200) .. (sntp.north);
    \draw[dep] (cryp) edge[fwd] (boom);
    \draw[dep] (boom) edge[fwd] (hoek);
    \draw[dep] (sntp) edge[fwd] (sntplib);
    \draw[dep] (sntplib) edge[fwd] (hoek);
    \draw[dep] (hoek) edge[fwd] (hoekesc);

    % http-signature
    \draw[dep] (hsidx) edge[fwd] (hsparse) edge[fwd] (hssign) edge[fwd] (hsver) edge[fwd] (hsutil);
    \draw[dep] (hsparse) edge[fwd] (ap) edge[fwd] (hsutil);
    \draw[dep] (hssign) edge[fwd] (ap) edge[fwd] (hsutil);
    \draw[dep] (hsver) edge[fwd] (ap) edge[fwd] (hsutil);
    \draw[dep] (hsutil) edge[fwd] (ap);
    \draw[dep] (hssign.south) .. controls (235,4500) and (300,5500) .. (shidx.north);
    \draw[dep] (hsver.south) .. controls (265,4600) and (310,5500) .. (shidx.north);
    \draw[dep] (hsutil.south) .. controls (325,4600) and (318,5500) .. (shidx.north);
    \draw[dep] (hssign.south) .. controls (200,6200) and (1150,7250) .. (jsprim.south);

    % tweetnacl
    \draw[dep] (shed.north) .. controls (1330,5200) and (1430,5000) .. (nacl.south);
    \draw[dep] (bcrypt.east) .. controls (1225,6350) and (1215,4906) .. (nacl.west);

    % sshpk
    \draw[dep] (shidx) edge[fwd] (shcert) edge[fwd] (shid) edge[fwd] (shfp) edge[fwd] (shkey) edge[fwd] (shpriv) edge[fwd] (shsig) edge[fwd] (sherr);
    \draw[dep] (shkey) edge[fwd] (shalgs) edge[fwd] (shsig) edge[fwd] (shdhe) edge[fwd] (sherr) edge[fwd] (shap) edge[fwd] (shed);
    \draw[dep] (shkey) edge[bwd] (shfp) edge[bwd] (shutil) edge[bwd] (shpriv) edge[bwd] (shauto) edge[bwd] (shpem);
    \draw[dep] (shkey) edge[bwd] (shpkcs1) edge[bwd] (shpkcs8) edge[bwd] (shrfc) edge[bwd] (shssh) edge[bwd] (shsshpriv);
    \draw[dep] (shpriv) edge[fwd] (shalgs) edge[fwd] (shsig) edge[fwd] (sherr) edge[fwd] (shkey) edge[fwd] (shdhe) edge[fwd] (shed) edge[fwd] (shap);
    \draw[dep] (shpriv) edge[bwd] (shfp) edge[bwd] (shutil) edge[bwd] (shauto) edge[bwd] (shpem) edge[bwd] (shpkcs1) edge[bwd] (shsshpriv);
    \draw[dep] (shpriv) edge[vdown] (shpkcs8) edge[loopr] (shrfc);
    \draw[dep] (shcert) edge[fwd] (shkey) edge[fwd] (shpriv) edge[fwd] (shid) edge[fwd] (shfp) edge[fwd] (shsig) edge[fwd] (shalgs);
    \draw[dep] (shcert) edge[fwd] (sherr) edge[fwd] (shutil) edge[fwd] (shoc) edge[fwd] (shx509) edge[fwd] (shap) edge[vup] (shx509pem);
    \draw[dep] (shid) edge[fwd] (shalgs) edge[fwd] (shfp) edge[fwd] (shsig) edge[fwd] (sherr) edge[fwd] (shutil) edge[fwd] (shap) edge[sink] (asidx);
    \draw[dep] (shfp) edge[fwd] (shalgs) edge[fwd] (sherr) edge[fwd] (shkey) edge[fwd] (shutil) edge[fwd] (shap) edge[bwd] (shcert);
    \draw[dep] (shsig) edge[fwd] (shalgs) edge[fwd] (sherr) edge[fwd] (shbuf) edge[fwd] (shap) edge[bwd] (shutil) edge[sink] (asidx);
    \draw[dep] (shutil) edge[fwd] (shpriv) edge[fwd] (shkey) edge[fwd] (shalgs) edge[fwd] (shap) edge[sink] (jsbn) edge[sink] (eccec) edge[sink] (asidx);
    \draw[dep] (shdhe) edge[fwd] (shalgs) edge[fwd] (shap) edge[arcup] (shkey) edge[bwd] (shpriv) edge[bwd] (shutil) edge[sink] (jsbn);
    \draw[dep] (shdhe.south) -- (jdidx.north);
    \draw[dep] (shdhe.south) .. controls (1330,6200) and (1400,6300) .. (eccidx.north west);
    \draw[dep] (shed) edge[fwd] (shsig) edge[fwd] (shap);
    \draw[dep] (sherr) edge[fwd] (shap);
    \draw[dep] (shbuf) edge[fwd] (shap);
    \draw[dep] (shauto) edge[fwd] (shpem) edge[fwd] (shssh) edge[fwd] (shrfc) edge[fwd] (shsshpriv) edge[fwd] (shutil) edge[fwd] (shkey) edge[fwd] (shpriv);
    \draw[dep] (shpem) edge[fwd] (shpkcs1) edge[fwd] (shpkcs8) edge[fwd] (shsshpriv) edge[fwd] (shrfc) edge[fwd] (shkey);
    \draw[dep] (shpem) edge[fwd] (shpriv) edge[fwd] (shutil) edge[fwd] (shalgs) edge[fwd] (sherr) edge[sink] (asidx);
    \draw[dep] (shpkcs1) edge[fwd] (shpkcs8) edge[fwd] (shkey) edge[fwd] (shpriv) edge[fwd] (shalgs) edge[fwd] (shap) edge[arcup] (shpem) edge[vup] (shutil);
    \draw[dep] (shpkcs8) edge[fwd] (shkey) edge[fwd] (shalgs) edge[fwd] (shap) edge[bwd] (shpem) edge[bwd] (shutil) edge[vup] (shpriv);
    \draw[dep] (shrfc) edge[fwd] (shkey) edge[fwd] (shalgs) edge[fwd] (shbuf) edge[fwd] (shap) edge[bwd] (shutil) edge[loopl] (shpriv);
    \draw[dep] (shsshpriv) edge[fwd] (shrfc) edge[fwd] (shkey) edge[fwd] (shpriv) edge[fwd] (shalgs) edge[fwd] (shbuf) edge[fwd] (sherr) edge[fwd] (shap);
    \draw[dep] (shsshpriv) edge[bwd] (shpem) edge[loopl] (shutil) edge[sink] (bcrypt) edge[sink] (asidx);
    \draw[dep] (shssh) edge[fwd] (shrfc) edge[fwd] (shsshpriv) edge[fwd] (shutil) edge[fwd] (shkey) edge[fwd] (shpriv);
    \draw[dep] (shoc) edge[fwd] (shbuf) edge[fwd] (shrfc) edge[fwd] (shalgs) edge[fwd] (shkey) edge[fwd] (shpriv) edge[fwd] (shsig) edge[fwd] (shap);
    \draw[dep] (shoc) edge[loopr] (shutil) edge[bwd] (shid) edge[bwd] (shcert);
    \draw[dep] (shx509pem) edge[fwd] (shx509) edge[fwd] (shpem) edge[fwd] (shutil) edge[fwd] (shkey) edge[fwd] (shpriv) edge[fwd] (shalgs);
    \draw[dep] (shx509pem) edge[fwd] (shsig) edge[fwd] (shid) edge[vdown] (shcert) edge[sink] (asidx);
    \draw[dep] (shx509) edge[fwd] (shpem) edge[fwd] (shutil) edge[fwd] (shkey) edge[fwd] (shpriv) edge[fwd] (shalgs) edge[fwd] (shsig);
    \draw[dep] (shx509) edge[fwd] (shpkcs8) edge[fwd] (shap) edge[loopl] (shid) edge[bwd] (shcert) edge[sink] (asidx);

    % ecc-jsbn, jodid25519
    \draw[dep] (eccidx) edge[fwd] (eccsec) edge[fwd] (eccec) edge[fwd] (jsbn);
    \draw[dep] (eccsec) edge[fwd] (eccec) edge[fwd] (jsbn);
    \draw[dep] (eccec) edge[fwd] (jsbn);
    \draw[dep] (jdidx) edge[fwd] (jddh) edge[fwd] (jded) edge[fwd] (jdutil) edge[fwd] (jdcore) edge[fwd] (jdcurve);
    \draw[dep] (jddh) edge[fwd] (jdutil) edge[fwd] (jdcore) edge[fwd] (jdcurve);
    \draw[dep] (jded) edge[fwd] (jdutil) edge[fwd] (jdcurve) edge[fwd] (jdcore) edge[fwd] (jsbn);
    \draw[dep] (jdcurve) edge[fwd] (jdutil) edge[fwd] (jdcore);
    \draw[dep] (jdutil) edge[fwd] (jdcore);

    % jsprim, verror, asn1
    \draw[dep] (jsprim) edge[fwd] (verror) edge[fwd] (extspf) edge[fwd] (jsch);
    \draw[dep] (verror) edge[fwd] (extspf);
    \draw[dep] (asidx) edge[fwd] (aberidx);
    \draw[dep] (aberidx) edge[fwd] (abwr) edge[fwd] (abty) edge[fwd] (abrd) edge[fwd] (aberr);
    \draw[dep] (abwr) edge[fwd] (abty) edge[fwd] (aberr);
    \draw[dep] (abrd) edge[fwd] (abty) edge[fwd] (aberr);
    \end{pgfonlayer}
\end{tikzpicture}
\end{document}
